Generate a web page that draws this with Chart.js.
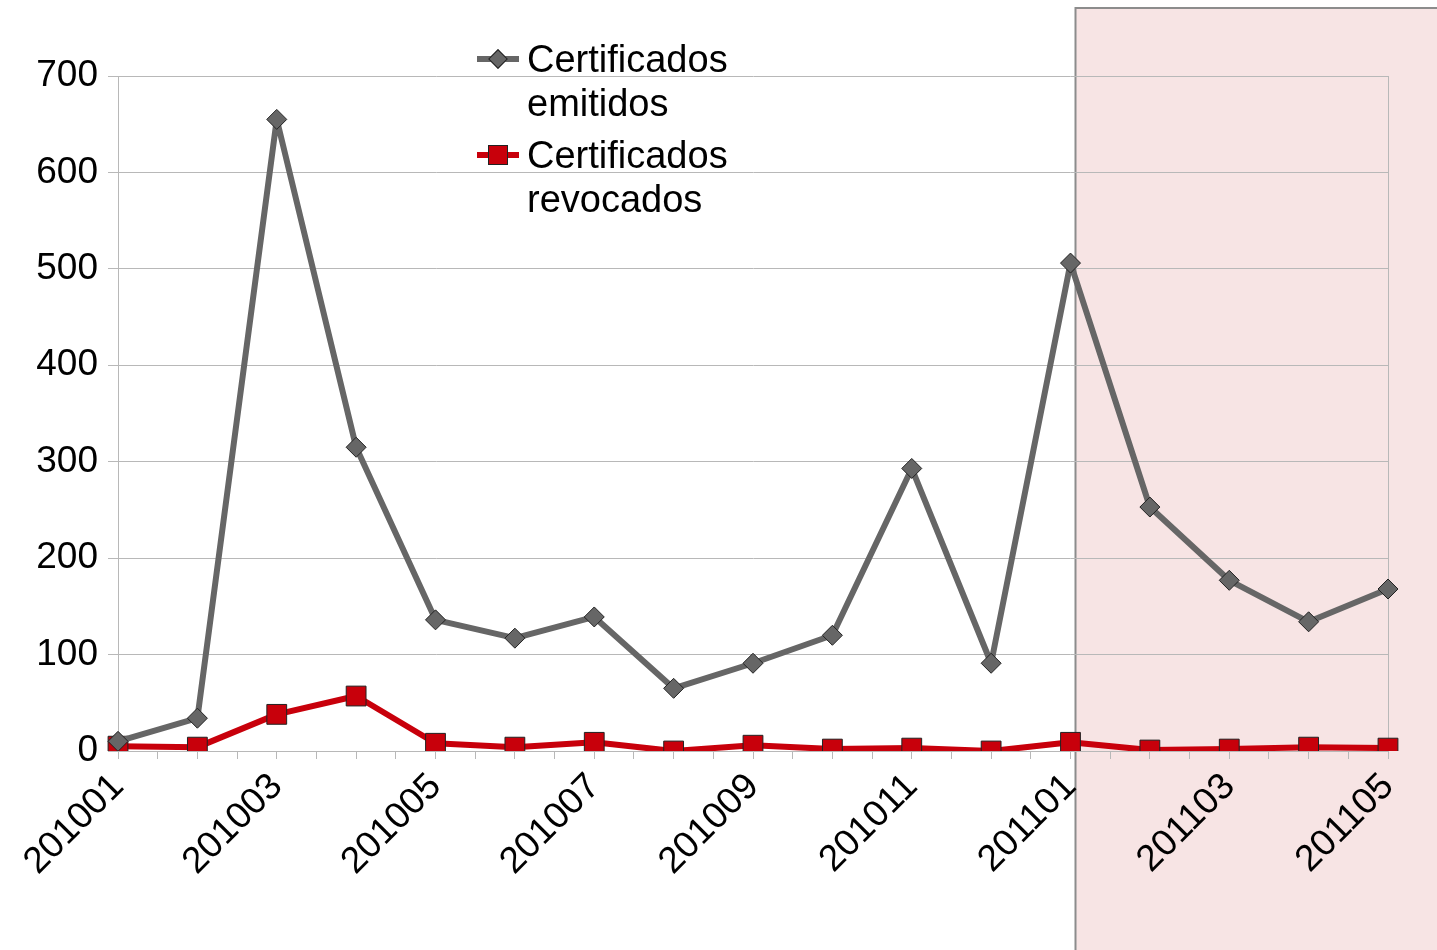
<!DOCTYPE html>
<html lang="es">
<head>
    <meta charset="UTF-8">
    <title>Certificados</title>
    <script src="https://cdn.jsdelivr.net/npm/chart.js"></script>
    <style>
        body {
            margin: 0;
            background: #ffffff;
            font-family: "Liberation Sans", Arial, sans-serif;
        }
        #chartContainer {
            width: 1437px;
            height: 950px;
            position: relative;
        }
        #legend {
            position: absolute;
            left: 477px;
            top: 37px;
            font-size: 38px;
            line-height: 44px;
            color: #000;
        }
        .item {
            position: relative;
            padding-left: 50px;
            margin-bottom: 8px;
        }
        .marker {
            position: absolute;
            left: 0;
            top: 19px;
            width: 42px;
            height: 6px;
        }
        .sym {
            position: absolute;
            border: 1px solid #222;
            box-sizing: border-box;
        }
    </style>
</head>
<body>
    <div id="chartContainer">
        <canvas id="myChartCanvas"></canvas>
        <div id="legend"></div>
    </div>

<script>
    // months (yyyymm)
    var categories = ['201001', '201002', '201003', '201004', '201005', '201006', '201007', '201008', '201009',
        '201010', '201011', '201012', '201101', '201102', '201103', '201104', '201105'];
    var emitidos = [10, 34, 655, 315, 136, 117, 139, 65, 91, 120, 293, 91, 506, 253, 177, 134, 168];
    var revocados = [5, 4, 38, 57, 8, 4, 9, 0, 6, 2, 3, 0, 9, 1, 2, 4, 3];
    var seriesNames = [['Certificados', 'emitidos'], ['Certificados', 'revocados']];
    var yTicks = [0, 100, 200, 300, 400, 500, 600, 700];
    var highlightFrom = '201101';

    var gray = '#666666';
    var red = '#c8000b';
    var gridColor = '#b8b8b8';
    var font = { family: 'Liberation Sans', size: 37 };

    // pink band behind the chart from highlightFrom onwards
    var bandPlugin = {
        id: 'band',
        beforeDraw: function (chart) {
            var ctx = chart.ctx;
            var x = chart.scales.x.getPixelForValue(categories.indexOf(highlightFrom)) + 5;
            var top = chart.chartArea.top - 68;
            ctx.save();
            ctx.fillStyle = '#f7e4e4';
            ctx.fillRect(x, top, chart.width - x + 10, chart.height - top + 10);
            ctx.strokeStyle = '#8c8c8c';
            ctx.lineWidth = 2;
            ctx.strokeRect(x, top, chart.width - x + 10, chart.height - top + 10);
            ctx.restore();
        }
    };

    var ctx = document.getElementById('myChartCanvas').getContext('2d');
    var myChart = new Chart(ctx, {
        type: 'line',
        data: {
            labels: categories,
            datasets: [{
                label: seriesNames[0].join(' '),
                data: emitidos,
                borderColor: gray,
                backgroundColor: gray,
                borderWidth: 6,
                borderJoinStyle: 'round',
                pointStyle: 'rectRot',
                pointRadius: 10,
                pointBackgroundColor: gray,
                pointBorderColor: '#222',
                pointBorderWidth: 1,
                tension: 0
            },
            {
                label: seriesNames[1].join(' '),
                data: revocados,
                borderColor: red,
                backgroundColor: red,
                borderWidth: 6,
                borderJoinStyle: 'round',
                pointStyle: 'rect',
                pointRadius: 14,
                pointBackgroundColor: red,
                pointBorderColor: '#222',
                pointBorderWidth: 1,
                tension: 0
            }]
        },
        options: {
            responsive: true,
            maintainAspectRatio: false,
            animation: false,
            layout: { padding: { top: 76, right: 49, left: 0, bottom: 0 } },
            plugins: {
                legend: { display: false },
                tooltip: { enabled: false }
            },
            scales: {
                x: {
                    offset: false,
                    grid: { drawOnChartArea: false, color: gridColor, tickLength: 8 },
                    border: { color: gridColor },
                    ticks: {
                        autoSkip: false,
                        minRotation: 45,
                        maxRotation: 45,
                        padding: 6,
                        color: '#000',
                        font: font,
                        callback: function (v, i) { return i % 2 === 0 ? categories[i] : ''; }
                    },
                    afterFit: function (s) { s.height = 199; }
                },
                x2: {
                    type: 'category',
                    labels: categories,
                    position: 'bottom',
                    offset: false,
                    weight: -1,
                    grid: { drawOnChartArea: false, offset: true, color: gridColor, tickLength: 8 },
                    border: { display: false },
                    ticks: { display: false },
                    afterFit: function (s) { s.height = 0; }
                },
                y: {
                    min: 0,
                    max: 700,
                    afterBuildTicks: function (s) { s.ticks = yTicks.map(function (v) { return { value: v }; }); },
                    grid: { color: gridColor, tickLength: 10 },
                    border: { color: gridColor },
                    ticks: { padding: 10, color: '#000', font: font },
                    afterFit: function (s) { s.width = 118; }
                },
                y2: {
                    position: 'right',
                    min: 0,
                    max: 700,
                    grid: { drawOnChartArea: false, drawTicks: false },
                    border: { color: gridColor },
                    ticks: { display: false },
                    afterFit: function (s) { s.width = 0; }
                }
            }
        },
        plugins: [bandPlugin]
    });

    // legend, two-line labels like the original
    var legend = document.getElementById('legend');
    var ds = myChart.data.datasets;
    ds.forEach(function (d, i) {
        var item = document.createElement('div');
        item.className = 'item';
        var line = document.createElement('div');
        line.className = 'marker';
        line.style.background = d.borderColor;
        var sym = document.createElement('div');
        sym.className = 'sym';
        sym.style.background = d.pointBackgroundColor;
        if (d.pointStyle === 'rectRot') {
            sym.style.width = '14px'; sym.style.height = '14px';
            sym.style.left = '14px'; sym.style.top = '-4px';
            sym.style.transform = 'rotate(45deg)';
        } else {
            sym.style.width = '20px'; sym.style.height = '20px';
            sym.style.left = '11px'; sym.style.top = '-7px';
        }
        line.appendChild(sym);
        item.appendChild(line);
        seriesNames[i].forEach(function (t) {
            var row = document.createElement('div');
            row.textContent = t;
            item.appendChild(row);
        });
        legend.appendChild(item);
    });
</script>
</body>
</html>
